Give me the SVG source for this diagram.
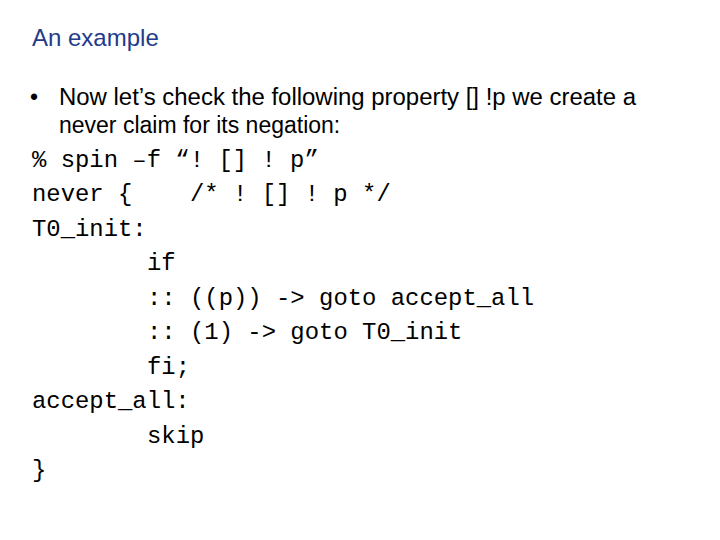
<svg xmlns="http://www.w3.org/2000/svg" width="720" height="540" viewBox="0 0 720 540">
<style>
.t{font-family:"Liberation Sans",Arial,sans-serif;font-size:24px;fill:#1f3b8c}
.s{font-family:"Liberation Sans",Arial,sans-serif;font-size:23px;fill:#000}
.m{font-family:"Liberation Mono","Courier New",monospace;font-size:23.9px;fill:#000}
</style>
<rect width="720" height="540" fill="#fff"/>
<text class="t" x="32" y="46">An example</text>
<text class="s" x="30" y="105">•</text>
<text class="s" x="59" y="105" textLength="577" lengthAdjust="spacingAndGlyphs">Now let’s check the following property [] !p we create a</text>
<text class="s" x="59" y="133">never claim for its negation:</text>
<text class="m" x="32" y="167">% spin –f “! [] ! p”</text>
<text class="m" x="32" y="201">never {</text>
<text class="m" x="190" y="201">/* ! [] ! p */</text>
<text class="m" x="32" y="236">T0_init:</text>
<text class="m" x="147" y="270">if</text>
<text class="m" x="147" y="305">:: ((p)) -&gt; goto accept_all</text>
<text class="m" x="147" y="339">:: (1) -&gt; goto T0_init</text>
<text class="m" x="147" y="374">fi;</text>
<text class="m" x="32" y="408">accept_all:</text>
<text class="m" x="147" y="443">skip</text>
<text class="m" x="32" y="477">}</text>
</svg>
